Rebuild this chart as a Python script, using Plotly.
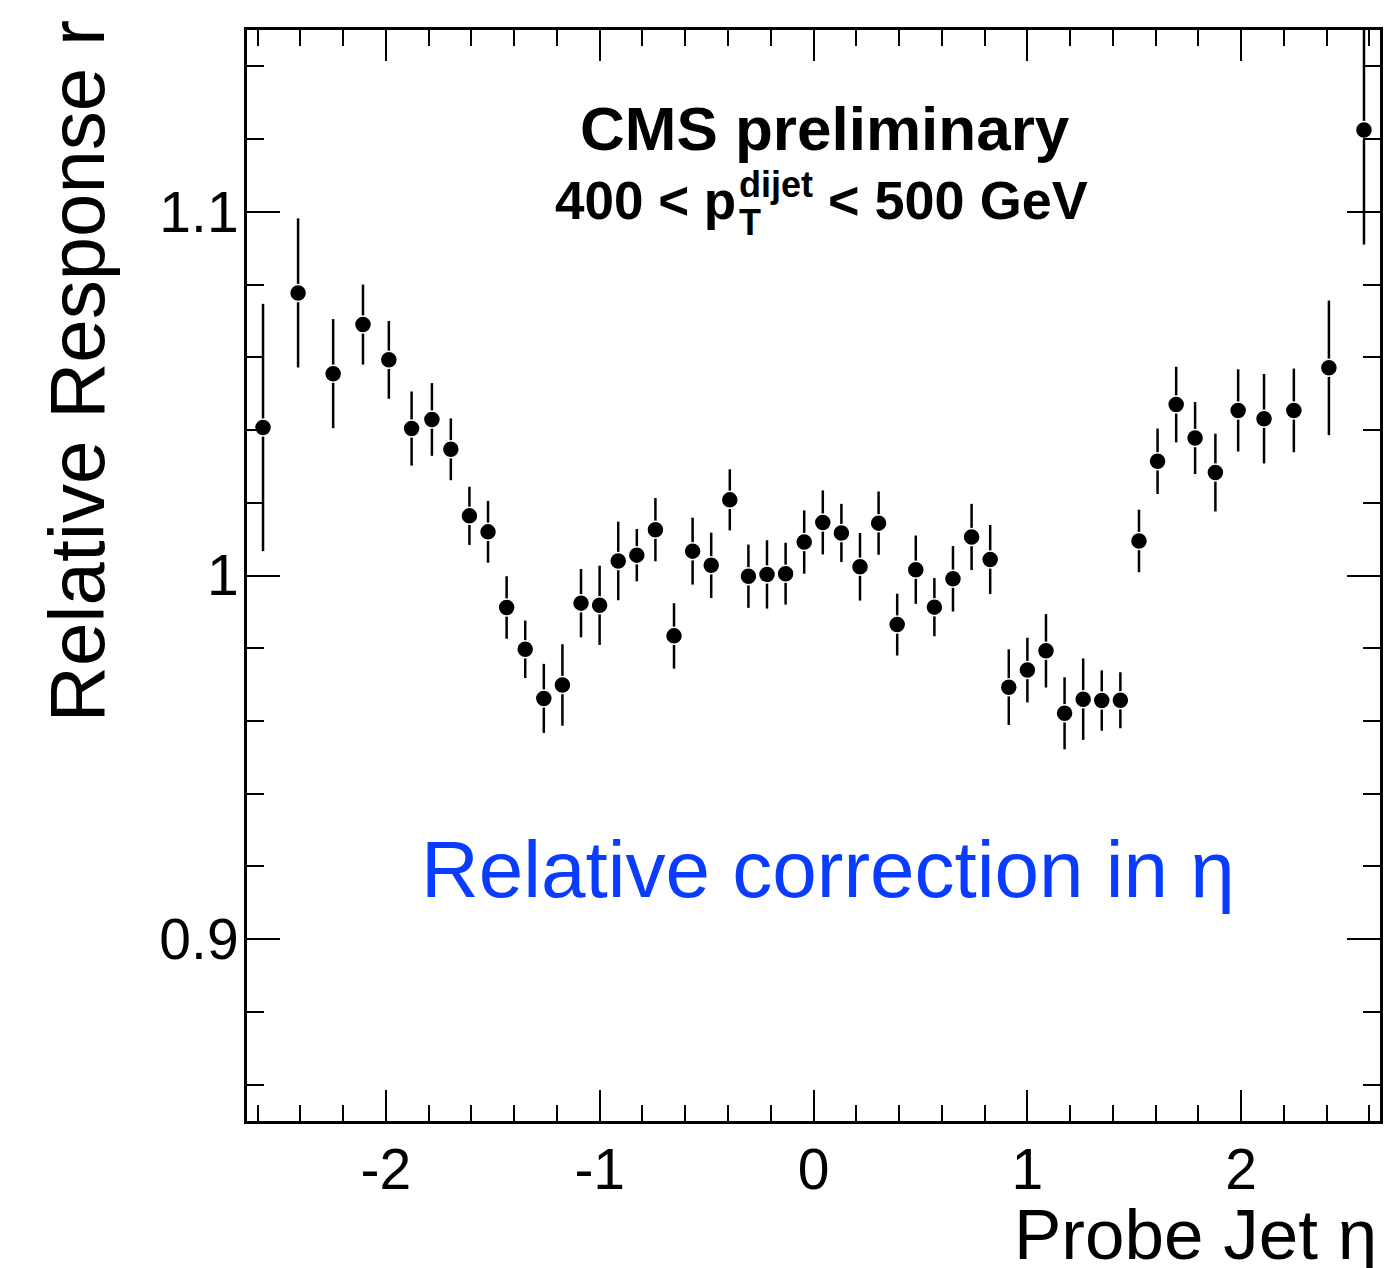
import plotly.graph_objects as go

# Probe jet eta bin centres (CMS eta binning)
eta = [-2.575, -2.411, -2.247, -2.1075, -1.9865, -1.88, -1.785, -1.6965, -1.6095,
       -1.5225, -1.4355, -1.3485, -1.2615, -1.1745, -1.0875, -1.0005, -0.9135,
       -0.8265, -0.7395, -0.6525, -0.5655, -0.4785, -0.3915, -0.3045, -0.2175,
       -0.1305, -0.0435, 0.0435, 0.1305, 0.2175, 0.3045, 0.3915, 0.4785, 0.5655,
       0.6525, 0.7395, 0.8265, 0.9135, 1.0005, 1.0875, 1.1745, 1.2615, 1.3485,
       1.4355, 1.5225, 1.6095, 1.6965, 1.785, 1.88, 1.9865, 2.1075, 2.247, 2.411,
       2.575]

response = [1.0407, 1.0777, 1.0555, 1.0690, 1.0593, 1.0404, 1.0429, 1.0347, 1.0164,
            1.0120, 0.9912, 0.9797, 0.9662, 0.9699, 0.9924, 0.9918, 1.0040, 1.0056,
            1.0126, 0.9834, 1.0067, 1.0028, 1.0208, 0.9998, 1.0003, 1.0005, 1.0092,
            1.0146, 1.0117, 1.0024, 1.0144, 0.9865, 1.0016, 0.9913, 0.9991, 1.0106,
            1.0044, 0.9693, 0.9740, 0.9793, 0.9621, 0.9660, 0.9656, 0.9657, 1.0095,
            1.0314, 1.0470, 1.0378, 1.0283, 1.0454, 1.0431, 1.0454, 1.0571, 1.1225]

error = [0.0340, 0.0205, 0.0150, 0.0110, 0.0107, 0.0102, 0.0100, 0.0085, 0.0080,
         0.0085, 0.0086, 0.0079, 0.0095, 0.0112, 0.0094, 0.0109, 0.0108, 0.0072,
         0.0087, 0.0090, 0.0092, 0.0090, 0.0084, 0.0087, 0.0094, 0.0085, 0.0087,
         0.0088, 0.0080, 0.0093, 0.0087, 0.0085, 0.0094, 0.0080, 0.0090, 0.0091,
         0.0095, 0.0104, 0.0089, 0.0101, 0.0099, 0.0112, 0.0083, 0.0077, 0.0086,
         0.0090, 0.0104, 0.0099, 0.0107, 0.0113, 0.0123, 0.0115, 0.0185, 0.0315]

x_tickvals = [-2, -1, 0, 1, 2]
x_ticktext = ["-2", "-1", "0", "1", "2"]
y_tickvals = [0.9, 1.0, 1.1]
y_ticktext = ["0.9", "1", "1.1"]

FONT = "Liberation Sans, Arial, Helvetica, sans-serif"

W, H = 1385, 1268
L, R, T, B = 247, 2, 30, 147
PW, PH = W - L - R, H - T - B


def px_x(p):
    return (p - L) / PW


def px_y(p):
    return (H - B - p) / PH


fig = go.Figure()
fig.add_trace(go.Scatter(
    x=eta, y=response, mode="markers",
    marker=dict(color="black", size=17, line=dict(color="white", width=1.5)),
    error_y=dict(type="data", array=error, visible=True, color="black",
                 thickness=2.5, width=0),
    showlegend=False,
))

axis_common = dict(
    showgrid=False, zeroline=False, showline=True, linecolor="black",
    linewidth=3, mirror="allticks", ticks="inside", tickcolor="black",
    tickwidth=2, tickfont=dict(family=FONT, size=57, color="black"),
)

fig.update_xaxes(
    range=[-2.65, 2.65], tickmode="array", tickvals=x_tickvals,
    ticktext=x_ticktext, ticklen=31, ticklabelstandoff=-3,
    minor=dict(tickmode="linear", tick0=0, dtick=0.2, ticklen=16,
               tickwidth=2, tickcolor="black", ticks="inside"),
    **axis_common,
)
fig.update_yaxes(
    range=[0.85, 1.15], tickmode="array", tickvals=y_tickvals,
    ticktext=y_ticktext, ticklen=33, ticklabelstandoff=-6,
    minor=dict(tickmode="linear", tick0=0.9, dtick=0.02, ticklen=17,
               tickwidth=2, tickcolor="black", ticks="inside"),
    **axis_common,
)

ann = []
# CMS label
ann.append(dict(text="<b>CMS preliminary</b>", x=px_x(827), y=px_y(128),
                xanchor="center", yanchor="middle",
                font=dict(family=FONT, size=62, color="black")))
# second line: 400 < p_T^dijet < 500 GeV
ann.append(dict(text="<b>400 < p</b>", x=px_x(739), y=px_y(200),
                xanchor="right", yanchor="middle",
                font=dict(family=FONT, size=53, color="black")))
ann.append(dict(text="<b>dijet</b>", x=px_x(738), y=px_y(184),
                xanchor="left", yanchor="middle",
                font=dict(family=FONT, size=36, color="black")))
ann.append(dict(text="<b>T</b>", x=px_x(738), y=px_y(222),
                xanchor="left", yanchor="middle",
                font=dict(family=FONT, size=36, color="black")))
ann.append(dict(text="<b>< 500 GeV</b>", x=px_x(828), y=px_y(200),
                xanchor="left", yanchor="middle",
                font=dict(family=FONT, size=54, color="black")))
# blue label
ann.append(dict(text="Relative correction in η", x=px_x(419), y=px_y(869),
                xanchor="left", yanchor="middle",
                font=dict(family=FONT, size=80, color="#0A3CFF")))
# axis titles
ann.append(dict(text="Probe Jet η", x=px_x(1382), y=px_y(1234),
                xanchor="right", yanchor="middle",
                font=dict(family=FONT, size=71, color="black")))
ann.append(dict(text="Relative Response r", x=px_x(77), y=px_y(18),
                xanchor="center", yanchor="top", textangle=-90,
                font=dict(family=FONT, size=78, color="black")))

for a in ann:
    a.update(xref="paper", yref="paper", showarrow=False)

fig.update_layout(
    width=W, height=H, margin=dict(l=L, r=R, t=T, b=B),
    paper_bgcolor="white", plot_bgcolor="white",
    annotations=ann,
)

fig.write_html("out.html")
